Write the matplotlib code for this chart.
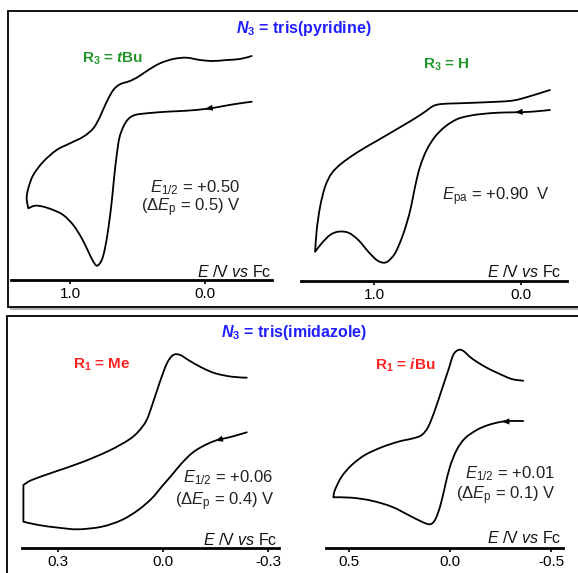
import numpy as np
import matplotlib
matplotlib.use("Agg")
import matplotlib.pyplot as plt
from matplotlib.patches import Rectangle, PathPatch
from matplotlib.path import Path

plt.rcParams['font.family'] = ['Liberation Sans', 'DejaVu Sans']
plt.rcParams['mathtext.fontset'] = 'custom'
plt.rcParams['mathtext.rm'] = 'Liberation Sans'
plt.rcParams['mathtext.it'] = 'Liberation Sans:italic'
plt.rcParams['mathtext.bf'] = 'Liberation Sans:bold'
plt.rcParams['mathtext.bfit'] = 'Liberation Sans:italic:bold'

# ---- data: potential (V vs Fc) and current (a.u.) ----
# tris(pyridine), R3 = tBu
tbu_E = [-0.346, -0.210, -0.111, 0.000, 0.136, 0.284, 0.432, 0.519, 0.568, 0.605,
         0.635, 0.654, 0.674, 0.691, 0.716, 0.741, 0.765, 0.798, 0.827, 0.864,
         0.913, 0.976, 1.050, 1.124, 1.198, 1.259, 1.309,
         1.321, 1.309, 1.272, 1.198, 1.099, 1.000, 0.901, 0.827, 0.778, 0.728,
         0.679, 0.630, 0.556, 0.494, 0.420, 0.333, 0.235, 0.136, 0.037, -0.062,
         -0.160, -0.259, -0.346]
tbu_I = [17.83, 17.57, 17.33, 17.10, 16.93, 16.83, 16.67, 16.50, 16.10, 15.33,
         14.17, 12.50, 10.17, 7.83, 5.17, 3.17, 2.00, 1.43, 1.83, 2.83,
         4.17, 5.50, 6.50, 7.00, 7.33, 7.43, 7.17,
         8.17, 9.17, 10.50, 11.83, 13.00, 13.67, 14.33, 15.17, 16.33, 17.83,
         19.00, 19.57, 19.90, 20.33, 21.00, 21.67, 22.10, 22.23, 22.00, 21.90,
         22.00, 22.10, 22.40]

# tris(pyridine), R3 = H
h_E = [-0.197, -0.073, 0.041, 0.154, 0.267, 0.358, 0.437, 0.517, 0.585, 0.642,
       0.687, 0.721, 0.748, 0.778, 0.812, 0.857, 0.903, 0.937, 0.982, 1.039,
       1.107, 1.175, 1.243, 1.299, 1.356, 1.401,
       1.390, 1.367, 1.333, 1.288, 1.220, 1.107, 0.971, 0.835, 0.721, 0.653,
       0.597, 0.540, 0.426, 0.245, 0.063, -0.050, -0.197]
h_I = [17.10, 16.93, 16.87, 16.83, 16.70, 16.50, 16.17, 15.43, 14.43, 13.10,
       11.43, 9.43, 7.43, 5.77, 4.27, 2.77, 2.00, 1.83, 2.10, 2.93,
       4.10, 4.83, 4.93, 4.60, 3.77, 2.93,
       5.10, 7.43, 9.43, 10.77, 11.77, 12.93, 14.10, 15.27, 16.27, 16.93,
       17.50, 17.70, 17.77, 17.87, 18.03, 18.43, 19.10]

# tris(imidazole), R1 = Me
me_E = [-0.239, -0.196, -0.149, -0.111, -0.082, -0.053, -0.025, 0.004, 0.032, 0.071,
        0.118, 0.175, 0.242, 0.299, 0.356, 0.399, 0.399,
        0.375, 0.309, 0.232, 0.156, 0.099, 0.071, 0.047, 0.028, 0.009, -0.011,
        -0.029, -0.049, -0.072, -0.111, -0.149, -0.196, -0.239]
me_I = [11.57, 11.13, 10.73, 10.13, 9.47, 8.47, 7.30, 6.13, 4.97, 3.80,
        2.80, 2.13, 1.87, 2.03, 2.30, 2.63, 6.30,
        6.80, 7.63, 8.57, 9.70, 10.80, 11.63, 12.80, 14.63, 16.63, 18.47,
        19.30, 19.30, 18.80, 18.03, 17.47, 17.13, 17.03]

# tris(imidazole), R1 = iBu
ibu_E = [-0.361, -0.304, -0.255, -0.189, -0.132, -0.074, -0.033, 0.000, 0.025, 0.049,
         0.074, 0.099, 0.139, 0.205, 0.287, 0.386, 0.484, 0.575,
         0.567, 0.534, 0.484, 0.419, 0.337, 0.255, 0.181, 0.139, 0.107, 0.074,
         0.041, 0.008, -0.016, -0.041, -0.066, -0.107, -0.172, -0.238, -0.304, -0.361]
ibu_I = [12.70, 12.70, 12.63, 12.30, 11.80, 10.97, 9.80, 8.13, 6.13, 4.13,
         2.80, 2.37, 2.63, 3.30, 4.13, 4.73, 5.03, 5.07,
         5.80, 7.13, 8.30, 9.30, 10.07, 10.63, 10.97, 11.30, 12.13, 13.80,
         15.80, 17.80, 19.30, 19.80, 19.70, 18.97, 18.13, 17.47, 16.90, 16.73]

top_ticks = [1.0, 0.0]
top_ticklabels = ['1.0', '0.0']
me_ticks = [0.3, 0.0, -0.3]
me_ticklabels = ['0.3', '0.0', '-0.3']
ibu_ticks = [0.5, 0.0, -0.5]
ibu_ticklabels = ['0.5', '0.0', '-0.5']

W, H = 578, 573
fig = plt.figure(figsize=(W / 100, H / 100), dpi=100)


def fx(x):
    return x / W


def fy(y):
    return 1 - y / H


# panel frames with a grey drop shadow (kept behind the axes)
for (x0, y0, x1, y1) in [(8, 11, 590, 307), (7, 316, 590, 590)]:
    fig.add_artist(Rectangle((fx(x0 + 2), fy(y1 + 3)), fx(x1 - x0), (y1 - y0) / H,
                             transform=fig.transFigure, facecolor='#b4b4b4',
                             edgecolor='none', zorder=-3))
    fig.add_artist(Rectangle((fx(x0), fy(y1)), fx(x1 - x0), (y1 - y0) / H,
                             transform=fig.transFigure, facecolor='white',
                             edgecolor='black', lw=1.3, zorder=-2))


def smooth_path(E, I, corners):
    # bezier path through the read points (Catmull-Rom), sharp at the switching points
    pts = np.column_stack([E, I])
    breaks = [0] + list(corners) + [len(pts) - 1]
    verts = [pts[0]]
    codes = [Path.MOVETO]
    for a, b in zip(breaks[:-1], breaks[1:]):
        seg = pts[a:b + 1]
        n = len(seg)
        for i in range(n - 1):
            p0 = seg[i - 1] if i > 0 else seg[i]
            p1, p2 = seg[i], seg[i + 1]
            p3 = seg[i + 2] if i + 2 < n else seg[i + 1]
            verts += [p1 + (p2 - p0) / 6, p2 - (p3 - p1) / 6, p2]
            codes += [Path.CURVE4] * 3
    return Path(verts, codes)


def cv_panel(x0, x1, y_top, y_axis, E, I, corners, xlim, ylim, ticks, ticklabels, arrow):
    ax = fig.add_axes([fx(x0), fy(y_axis), fx(x1 - x0), (y_axis - y_top) / H])
    ax.set_facecolor('none')
    ax.add_patch(PathPatch(smooth_path(E, I, corners), facecolor='none',
                           edgecolor='black', lw=1.3, capstyle='round',
                           joinstyle='round', clip_on=False))
    tip, tail = arrow
    ax.annotate('', xy=(E[tip], I[tip]), xytext=(E[tail], I[tail]),
                arrowprops=dict(arrowstyle='-|>,head_length=0.55,head_width=0.22',
                                color='black', lw=0.01, shrinkA=0, shrinkB=0,
                                mutation_scale=10))
    ax.set_xlim(*xlim)
    ax.set_ylim(*ylim)
    for s in ['left', 'right', 'top']:
        ax.spines[s].set_visible(False)
    ax.spines['bottom'].set_linewidth(2.0)
    ax.set_yticks([])
    ax.set_xticks(ticks)
    ax.set_xticklabels(ticklabels)
    ax.tick_params(axis='x', direction='out', length=3, width=1.2,
                   labelsize=11, pad=2)
    return ax


cv_panel(11, 272, 40, 280, tbu_E, tbu_I, [26], (1.437, -0.496), (0, 24),
         top_ticks, top_ticklabels, (3, 1))
cv_panel(301, 567, 41, 281, h_E, h_I, [25], (1.497, -0.313), (0, 24),
         top_ticks, top_ticklabels, (2, 0))
cv_panel(22, 279, 348, 548, me_E, me_I, [15, 16], (0.403, -0.331), (0, 20),
         me_ticks, me_ticklabels, (2, 0))
cv_panel(326, 563, 348, 548, ibu_E, ibu_I, [17], (0.611, -0.557), (0, 20),
         ibu_ticks, ibu_ticklabels, (2, 0))


def label(x, y, s, **kw):
    fig.text(fx(x), fy(y), s, **kw)


blue = '#1f1fff'
green = '#23962a'
red = '#ff2222'

label(304, 29, r'$\mathbfit{N}_\mathbf{3}$ = tris(pyridine)', color=blue,
      fontsize=11.5, fontweight='bold', ha='center', va='center')
label(294, 332, r'$\mathbfit{N}_\mathbf{3}$ = tris(imidazole)', color=blue,
      fontsize=11.5, fontweight='bold', ha='center', va='center')

label(82, 59, r'$\mathbf{R}_\mathbf{3}$ = $\mathbfit{t}$Bu', color=green,
      fontsize=11, fontweight='bold', ha='left', va='center')
label(423, 65, r'$\mathbf{R}_\mathbf{3}$ = H', color=green,
      fontsize=11, fontweight='bold', ha='left', va='center')
label(73, 365, r'$\mathbf{R}_\mathbf{1}$ = Me', color=red,
      fontsize=11, fontweight='bold', ha='left', va='center')
label(375, 365, r'$\mathbf{R}_\mathbf{1}$ = $\mathbfit{i}$Bu', color=red,
      fontsize=11, fontweight='bold', ha='left', va='center')

txt = dict(fontsize=12, color='#222222', va='center')
label(240, 188, r'$E_{1/2}$ = +0.50', ha='right', **txt)
label(241, 208, r'($\Delta E_\mathrm{p}$ = 0.5) V', ha='right', **txt)
label(550, 197, r'$E_\mathrm{pa}$ = +0.90  V', ha='right', **txt)
label(273, 478, r'$E_{1/2}$ = +0.06', ha='right', **txt)
label(275, 502, r'($\Delta E_\mathrm{p}$ = 0.4) V', ha='right', **txt)
label(555, 474, r'$E_{1/2}$ = +0.01', ha='right', **txt)
label(556, 496, r'($\Delta E_\mathrm{p}$ = 0.1) V', ha='right', **txt)

axlab = dict(fontsize=11.5, color='#111111', va='center', ha='right')
for (x, y) in [(271, 272), (561, 272), (277, 540), (561, 538)]:
    label(x, y, r'$E$ /V $vs$ Fc', **axlab)

fig.savefig('out.png', dpi=100)
